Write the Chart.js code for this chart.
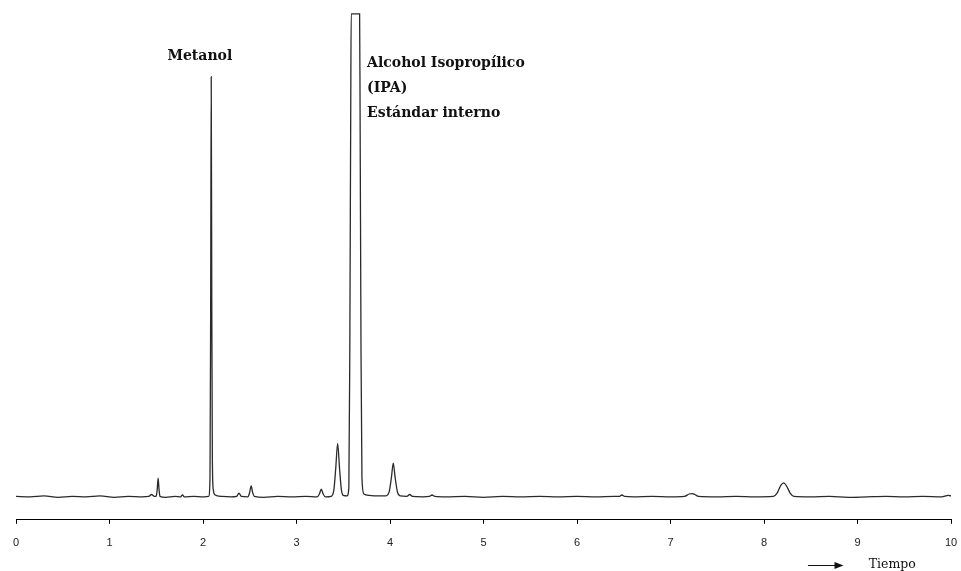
<!DOCTYPE html>
<html>
<head>
<meta charset="utf-8">
<title>Cromatograma</title>
<script src="https://cdn.jsdelivr.net/npm/chart.js@4.4.0/dist/chart.umd.min.js"></script>
<style>
  html, body { margin: 0; padding: 0; background: #fff; }
  #chart_box { width: 961px; height: 571px; }
</style>
</head>
<body>
<div id="chart_box"><canvas id="chart_here"></canvas></div>
<script>
'use strict';
// chromatogram: signal vs retention time

//global data
var tiempo = [
  0.00, 0.15, 0.30, 0.45, 0.60, 0.75, 0.90, 1.05, 1.20, 1.35,
  1.42, 1.45, 1.48, 1.50, 1.51, 1.52, 1.53, 1.54, 1.60, 1.70,
  1.76, 1.78, 1.80, 1.90, 2.00, 2.06, 2.075, 2.082, 2.088, 2.094,
  2.10, 2.11, 2.13, 2.20, 2.30, 2.36, 2.385, 2.41, 2.48, 2.50,
  2.515, 2.53, 2.55, 2.65, 2.80, 2.95, 3.10, 3.22, 3.245, 3.265,
  3.285, 3.31, 3.37, 3.40, 3.42, 3.44, 3.46, 3.48, 3.50, 3.54,
  3.56, 3.57, 3.58, 3.585, 3.675, 3.68, 3.69, 3.70, 3.72, 3.78,
  3.85, 3.95, 3.99, 4.015, 4.035, 4.055, 4.08, 4.11, 4.18, 4.21,
  4.24, 4.35, 4.42, 4.45, 4.48, 4.60, 4.80, 5.00, 5.20, 5.40,
  5.60, 5.80, 6.00, 6.20, 6.40, 6.45, 6.48, 6.51, 6.60, 6.80,
  7.00, 7.15, 7.20, 7.23, 7.26, 7.30, 7.50, 7.70, 7.90, 8.10,
  8.14, 8.18, 8.21, 8.24, 8.28, 8.32, 8.50, 8.70, 8.90, 9.10,
  9.30, 9.50, 9.70, 9.90, 9.97, 10.00
];
var senal = [
  0.1, 0.0, 0.2, -0.1, 0.1, 0.0, 0.2, -0.1, 0.1, 0.0,
  0.1, 0.5, 0.1, 0.2, 1.5, 3.9, 1.5, 0.1, -0.1, 0.1,
  0.0, 0.4, 0.0, 0.1, 0.0, 0.1, 4, 40, 87, 40,
  8, 1.5, 0.4, 0.1, 0.0, 0.1, 0.8, 0.1, 0.0, 1.0,
  2.3, 1.0, 0.1, -0.1, 0.1, 0.0, 0.1, 0.0, 0.6, 1.6,
  0.6, 0.0, 0.1, 1.5, 6, 11.1, 6, 1.5, 0.3, 0.2,
  2, 30, 80, 100, 100, 80, 30, 4, 0.6, 0.3,
  0.2, 0.2, 1.0, 4, 7.0, 4, 1.0, 0.2, 0.1, 0.5,
  0.1, 0.0, 0.1, 0.4, 0.1, 0.0, 0.1, -0.1, 0.1, 0.0,
  0.1, 0.0, 0.1, 0.0, 0.1, 0.1, 0.4, 0.1, 0.0, 0.1,
  0.0, 0.1, 0.6, 0.7, 0.5, 0.1, 0.0, 0.1, 0.0, 0.1,
  0.8, 2.4, 2.9, 2.3, 0.8, 0.1, 0.0, 0.1, -0.1, 0.0,
  0.1, 0.0, 0.1, 0.0, 0.3, 0.2
];
var tickLabels = ['0', '1', '2', '3', '4', '5', '6', '7', '8', '9', '10'];
var peakNames = ['Metanol', 'Alcohol Isopropílico', '(IPA)', 'Estándar interno'];
var axisTitle = 'Tiempo';

var chart_here = document.getElementById('chart_here');

//build points from the two arrays
function makePoints() {
  var pts = [];
  for(var i = 0; i < tiempo.length; i++) {
    pts.push({ x: tiempo[i], y: senal[i] });
  }
  return pts;
}

// plugin for the peak names and the arrow under the axis
var labelPlugin = {
  id: 'peakLabels',
  afterDraw: function(chart) {
    var ctx = chart.ctx;
    var xs = chart.scales.x;
    ctx.save();
    ctx.fillStyle = '#111';
    ctx.textBaseline = 'alphabetic';
    ctx.textAlign = 'left';
    ctx.font = 'bold 14px "DejaVu Serif"';
    ctx.fillText(peakNames[0], xs.getPixelForValue(1.62), 60);
    var ipaX = xs.getPixelForValue(3.755);
    ctx.fillText(peakNames[1], ipaX, 67);
    ctx.fillText(peakNames[2], ipaX, 92);
    ctx.fillText(peakNames[3], ipaX, 117);

    // arrow
    var a0 = xs.getPixelForValue(8.47);
    var a1 = xs.getPixelForValue(8.85);
    ctx.strokeStyle = '#111';
    ctx.lineWidth = 1;
    ctx.beginPath();
    ctx.moveTo(a0, 565.5);
    ctx.lineTo(a1 - 6, 565.5);
    ctx.stroke();
    ctx.beginPath();
    ctx.moveTo(a1, 565.5);
    ctx.lineTo(a1 - 9, 562);
    ctx.lineTo(a1 - 9, 569);
    ctx.closePath();
    ctx.fill();

    ctx.font = '12.5px "DejaVu Serif"';
    ctx.fillText(axisTitle, xs.getPixelForValue(9.12), 568);
    ctx.restore();
  }
};

function drawChart() {
  var ctx = chart_here.getContext('2d');
  var cromChart = new Chart(ctx, {
    type: 'line',
    data: {
      datasets: [
        {
          label: 'Señal',
          data: makePoints(),
          borderColor: '#2a2a2a',
          borderWidth: 1.3,
          pointRadius: 0,
          cubicInterpolationMode: 'monotone',
          fill: false
        }
      ]
    },
    options: {
      responsive: true,
      maintainAspectRatio: false,
      animation: false,
      layout: {
        padding: { left: 16, right: 10, top: 12, bottom: 8 }
      },
      plugins: {
        legend: { display: false },
        tooltip: { enabled: false }
      },
      scales: {
        x: {
          type: 'linear',
          min: 0,
          max: 10,
          afterFit: function(scale) {
            // let the layout padding alone decide the side margins
            scale.paddingLeft = 0;
            scale.paddingRight = 0;
          },
          ticks: {
            stepSize: 1,
            padding: 13,
            color: '#222',
            font: { family: '"Liberation Sans"', size: 11 },
            callback: function(value) {
              return tickLabels[value];
            }
          },
          grid: {
            drawOnChartArea: false,
            drawTicks: true,
            tickLength: 4,
            color: '#000'
          },
          border: { display: true, color: '#000', width: 1 }
        },
        y: {
          display: false,
          min: -4.74,
          max: 100.4
        }
      }
    },
    plugins: [labelPlugin]
  });
}

drawChart();
</script>
</body>
</html>
